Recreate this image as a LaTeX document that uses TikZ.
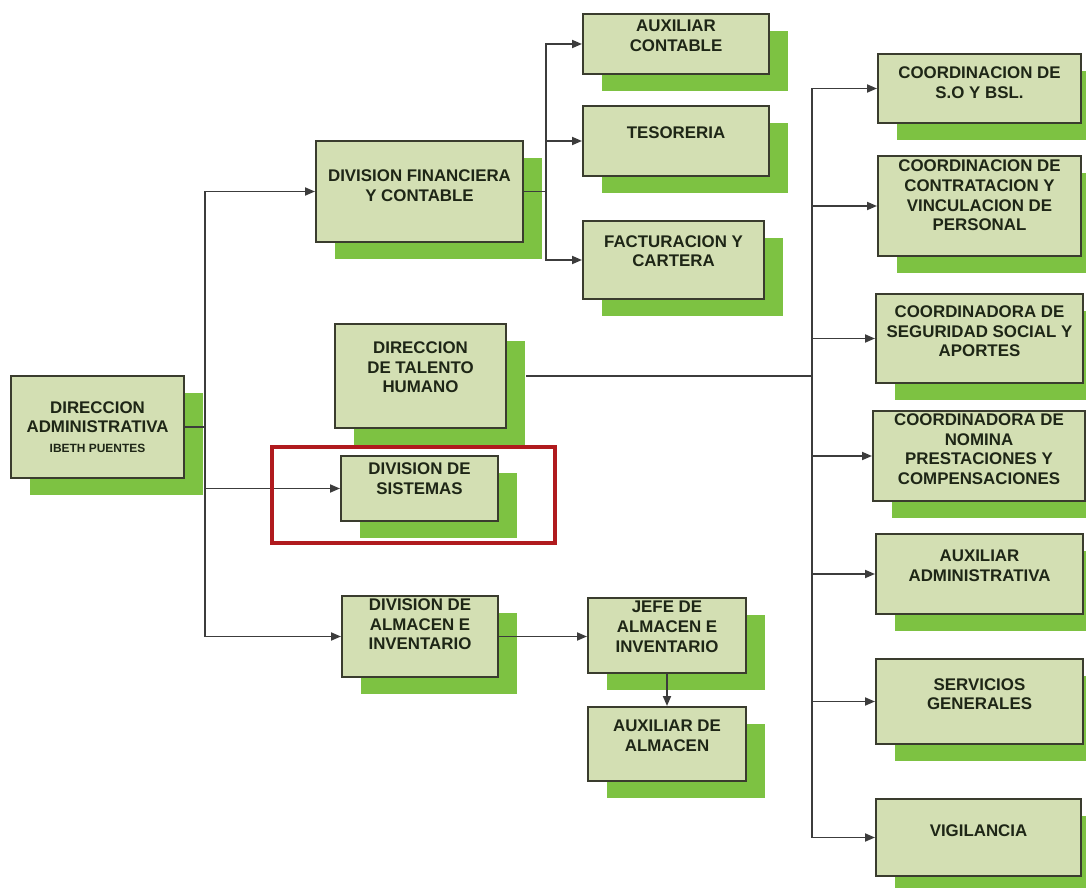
\documentclass[tikz,border=0pt]{standalone}
\usepackage{fontspec}
\setmainfont{Liberation Sans}
\usetikzlibrary{arrows.meta,shadows}
\definecolor{OrgFill}{HTML}{D3DFB3}
\definecolor{OrgShade}{HTML}{7DC242}
\definecolor{OrgLine}{HTML}{3A3C2E}
\definecolor{OrgLink}{HTML}{3C3C3C}
\definecolor{OrgText}{HTML}{1E2616}
\definecolor{OrgRed}{HTML}{B01A1E}

\begin{document}
\begin{tikzpicture}[x=0.025cm,y=-0.025cm,
  box/.style={draw=OrgLine,line width=1.4pt,fill=OrgFill,rectangle,anchor=north west,inner sep=0pt,
    general shadow={fill=OrgShade,draw=none,shadow xshift=0.475cm,shadow yshift=-0.425cm}},
  lbl/.style={align=center,text=OrgText,font=\fontsize{12}{14}\selectfont\bfseries,inner sep=0pt},
  link/.style={OrgLink,line width=1.3pt},
  arr/.style={link,-{Triangle[length=0.25cm,width=0.2cm]}}]
\path[use as bounding box,fill=white] (0,0) rectangle (1086,888);
\node[box,minimum width=4.325cm,minimum height=2.55cm] (adm) at (10,375) {};
\node[lbl] (adm-t) at (adm.center) {DIRECCION\\ADMINISTRATIVA\\{\fontsize{8.5}{10}\selectfont IBETH PUENTES}};
\node[box,minimum width=5.175cm,minimum height=2.525cm] (fin) at (315,140) {};
\node[lbl,yshift=0.15cm] (fin-t) at (fin.center) {DIVISION FINANCIERA\\Y CONTABLE};
\node[box,minimum width=4.65cm,minimum height=1.5cm] (auxc) at (582,13) {};
\node[lbl,yshift=0.2cm] (auxc-t) at (auxc.center) {AUXILIAR\\CONTABLE};
\node[box,minimum width=4.65cm,minimum height=1.75cm] (tes) at (582,105) {};
\node[lbl,yshift=0.22cm] (tes-t) at (tes.center) {TESORERIA};
\node[box,minimum width=4.525cm,minimum height=1.95cm] (fac) at (582,220) {};
\node[lbl,yshift=0.22cm] (fac-t) at (fac.center) {FACTURACION Y\\CARTERA};
\node[box,minimum width=4.275cm,minimum height=2.6cm] (tal) at (334,323) {};
\node[lbl,yshift=0.22cm] (tal-t) at (tal.center) {DIRECCION\\DE TALENTO\\HUMANO};
\node[box,minimum width=3.925cm,minimum height=1.625cm] (sis) at (340,455) {};
\node[lbl,yshift=0.25cm] (sis-t) at (sis.center) {DIVISION DE\\SISTEMAS};
\node[box,minimum width=3.9cm,minimum height=2.025cm] (alm) at (341,595) {};
\node[lbl,yshift=0.3cm] (alm-t) at (alm.center) {DIVISION DE\\ALMACEN E\\INVENTARIO};
\node[box,minimum width=3.95cm,minimum height=1.875cm] (jefe) at (587,597) {};
\node[lbl,yshift=0.22cm] (jefe-t) at (jefe.center) {JEFE DE\\ALMACEN E\\INVENTARIO};
\node[box,minimum width=3.95cm,minimum height=1.85cm] (auxa) at (587,706) {};
\node[lbl,yshift=0.2cm] (auxa-t) at (auxa.center) {AUXILIAR DE\\ALMACEN};
\node[box,minimum width=5.075cm,minimum height=1.725cm] (so) at (877,53) {};
\node[lbl,yshift=0.15cm] (so-t) at (so.center) {COORDINACION DE\\S.O Y BSL.};
\node[box,minimum width=5.075cm,minimum height=2.5cm] (con) at (877,155) {};
\node[lbl,yshift=0.26cm] (con-t) at (con.center) {COORDINACION DE\\CONTRATACION Y\\VINCULACION DE\\PERSONAL};
\node[box,minimum width=5.175cm,minimum height=2.225cm] (seg) at (875,293) {};
\node[lbl,yshift=0.18cm] (seg-t) at (seg.center) {COORDINADORA DE\\SEGURIDAD SOCIAL Y\\APORTES};
\node[box,minimum width=5.3cm,minimum height=2.25cm] (nom) at (872,410) {};
\node[lbl,yshift=0.17cm] (nom-t) at (nom.center) {COORDINADORA DE\\NOMINA\\PRESTACIONES Y\\COMPENSACIONES};
\node[box,minimum width=5.175cm,minimum height=2cm] (adma) at (875,533) {};
\node[lbl,yshift=0.2cm] (adma-t) at (adma.center) {AUXILIAR\\ADMINISTRATIVA};
\node[box,minimum width=5.175cm,minimum height=2.125cm] (ser) at (875,658) {};
\node[lbl,yshift=0.18cm] (ser-t) at (ser.center) {SERVICIOS\\GENERALES};
\node[box,minimum width=5.125cm,minimum height=1.925cm] (vig) at (875,798) {};
\node[lbl,yshift=0.18cm] (vig-t) at (vig.center) {VIGILANCIA};
\coordinate (lspine) at (205,428);
\coordinate (fspine) at (546,190.5);
\coordinate (rspine) at (812,375);
\draw[link] (adm.east) -- (adm.east -| lspine);
\draw[arr] (adm.east -| lspine) |- (fin.west);
\draw[arr] (adm.east -| lspine) |- (sis.west);
\draw[arr] (adm.east -| lspine) |- (alm.west);
\draw[link] (fin.east) -- (fin.east -| fspine);
\draw[arr] (fin.east -| fspine) |- (auxc.west);
\draw[arr] (fin.east -| fspine) |- (tes.west);
\draw[arr] (fin.east -| fspine) |- (fac.west);
\draw[link] ([xshift=0.475cm]tal.east) -- (tal.east -| rspine);
\draw[arr] (tal.east -| rspine) |- (so.west);
\draw[arr] (tal.east -| rspine) |- (con.west);
\draw[arr] (tal.east -| rspine) |- (seg.west);
\draw[arr] (tal.east -| rspine) |- (nom.west);
\draw[arr] (tal.east -| rspine) |- (adma.west);
\draw[arr] (tal.east -| rspine) |- (ser.west);
\draw[arr] (tal.east -| rspine) |- (vig.west);
\draw[arr] (alm.east) -- (alm.east -| jefe.west);
\draw[arr] (jefe.south) -- (auxa.north);
\draw[OrgRed,line width=2.8pt] (272,447) rectangle (555,543);
\end{tikzpicture}
\end{document}
